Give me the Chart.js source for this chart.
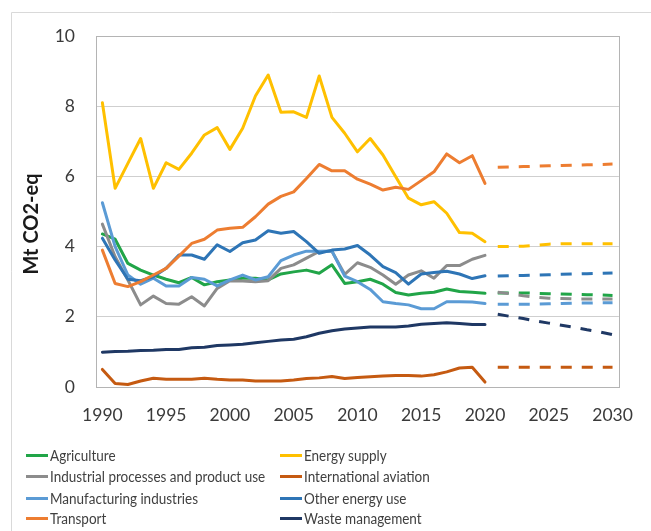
<!DOCTYPE html>
<html>
<head>
<meta charset="utf-8">
<script src="https://cdn.jsdelivr.net/npm/chart.js@4"></script>
<style>
  html, body { margin: 0; padding: 0; background: #fff; }
  #wrap { position: relative; width: 651px; height: 531px; overflow: hidden; }
  #legend { position: absolute; left: 0; top: 0; width: 651px; height: 531px; pointer-events: none;
            font-family: Lato, "Liberation Sans", sans-serif; font-size: 15.5px; color: #404040; }
  .item { position: absolute; height: 21px; line-height: 21px; white-space: nowrap; }
  .swatch { position: absolute; width: 22px; height: 3px; top: 9px; }
  .txt { position: absolute; left: 24px; top: 0; display: inline-block; transform: scaleX(0.87); transform-origin: 0 50%; }
</style>
</head>
<body>
<div id="wrap">
  <canvas id="c" width="651" height="531"></canvas>
  <div id="legend"></div>
</div>
<script>
const years = [1990,1991,1992,1993,1994,1995,1996,1997,1998,1999,2000,2001,2002,2003,2004,2005,2006,2007,2008,2009,2010,
               2011,2012,2013,2014,2015,2016,2017,2018,2019,2020,2021,2022,2023,2024,2025,2026,2027,2028,2029,2030];
const tickYears = [1990,1995,2000,2005,2010,2015,2020,2025,2030];

const seriesNames = ["Agriculture","Energy supply","Industrial processes and product use","International aviation",
                     "Manufacturing industries","Other energy use","Transport","Waste management"];
const seriesColors = ["#21A548","#FFC000","#8C8C8C","#C55A11","#5B9BD5","#2E75B6","#ED7D31","#1F3864"];

// Historical 1990-2020
const agriculture   = [4.36,4.21,3.52,3.33,3.19,3.07,2.97,3.12,2.91,3.00,3.05,3.10,3.10,3.05,3.22,3.28,3.33,3.24,3.48,2.95,3.00,3.07,2.93,2.69,2.62,2.67,2.70,2.79,2.72,2.70,2.67];
const energySupply  = [8.10,5.66,6.37,7.08,5.66,6.39,6.20,6.66,7.18,7.39,6.77,7.37,8.29,8.89,7.83,7.84,7.68,8.86,7.68,7.23,6.70,7.08,6.61,5.99,5.38,5.19,5.28,4.95,4.40,4.38,4.14];
const industrial    = [4.64,3.71,3.05,2.34,2.59,2.38,2.36,2.57,2.31,2.81,3.03,3.02,3.00,3.03,3.38,3.48,3.67,3.86,3.87,3.21,3.54,3.41,3.19,2.93,3.19,3.31,3.10,3.46,3.46,3.64,3.75];
const aviation      = [0.50,0.10,0.07,0.17,0.25,0.22,0.22,0.22,0.25,0.22,0.20,0.20,0.17,0.17,0.17,0.20,0.24,0.26,0.30,0.24,0.27,0.29,0.31,0.33,0.33,0.31,0.35,0.43,0.54,0.56,0.14];
const manufacturing = [5.25,4.00,3.19,2.93,3.10,2.88,2.88,3.12,3.07,2.88,3.05,3.19,3.05,3.14,3.60,3.76,3.87,3.87,3.87,3.16,3.00,2.78,2.43,2.38,2.34,2.23,2.23,2.43,2.43,2.42,2.38];
const otherEnergy   = [4.24,3.62,3.07,3.03,3.14,3.38,3.76,3.76,3.64,4.05,3.86,4.11,4.19,4.45,4.38,4.43,4.14,3.81,3.90,3.93,4.03,3.76,3.43,3.26,2.93,3.22,3.26,3.30,3.22,3.09,3.17];
const transport     = [3.90,2.95,2.86,3.00,3.19,3.38,3.73,4.09,4.21,4.47,4.52,4.55,4.85,5.21,5.43,5.56,5.94,6.34,6.16,6.16,5.92,5.78,5.61,5.69,5.63,5.88,6.13,6.64,6.39,6.59,5.80];
const waste         = [0.99,1.01,1.02,1.04,1.05,1.07,1.07,1.12,1.13,1.18,1.20,1.22,1.26,1.30,1.34,1.36,1.43,1.53,1.60,1.65,1.68,1.71,1.71,1.71,1.74,1.79,1.81,1.83,1.81,1.78,1.78];

// Projections 2021-2030
const agricultureP   = [2.68,2.68,2.68,2.67,2.66,2.65,2.64,2.63,2.62,2.61];
const energySupplyP  = [4.00,4.00,4.01,4.04,4.07,4.08,4.08,4.08,4.08,4.08];
const industrialP    = [2.70,2.66,2.60,2.56,2.53,2.52,2.51,2.51,2.51,2.51];
const aviationP      = [0.56,0.56,0.56,0.56,0.56,0.56,0.56,0.56,0.56,0.56];
const manufacturingP = [2.36,2.36,2.36,2.36,2.37,2.38,2.39,2.39,2.40,2.40];
const otherEnergyP   = [3.16,3.17,3.18,3.19,3.20,3.21,3.22,3.23,3.24,3.25];
const transportP     = [6.26,6.27,6.28,6.29,6.30,6.31,6.32,6.33,6.34,6.35];
const wasteP         = [2.07,2.01,1.95,1.88,1.82,1.76,1.70,1.63,1.57,1.49];

const yTicks = [0,2,4,6,8,10];
const yTitle = "Mt CO2-eq";

const hist = [agriculture,energySupply,industrial,aviation,manufacturing,otherEnergy,transport,waste];
const proj = [agricultureP,energySupplyP,industrialP,aviationP,manufacturingP,otherEnergyP,transportP,wasteP];

const nHist = hist[0].length;
const datasets = [];
seriesNames.forEach((name, i) => {
  const solid = years.map((y, k) => k < nHist ? hist[i][k] : null);
  const dashed = years.map((y, k) => k >= nHist ? proj[i][k - nHist] : null);
  datasets.push({ label: name, data: solid, borderColor: seriesColors[i], borderWidth: 3,
                  pointRadius: 0, tension: 0, fill: false, spanGaps: false, order: 100 - i,
                  borderJoinStyle: 'round', borderCapStyle: 'round' });
  datasets.push({ label: name + " (projection)", data: dashed, borderColor: seriesColors[i], borderWidth: 3,
                  borderDash: [11, 10], pointRadius: 0, tension: 0, fill: false, spanGaps: false, order: 100 - i,
                  borderCapStyle: 'butt' });
});

const framePlugin = {
  id: 'frame',
  beforeDraw(chart) {
    const ctx = chart.ctx;
    ctx.save();
    ctx.strokeStyle = '#D9D9D9';
    ctx.lineWidth = 1;
    ctx.beginPath();
    ctx.moveTo(11.5, 531); ctx.lineTo(11.5, 12.5); ctx.lineTo(651, 12.5);
    ctx.stroke();
    ctx.restore();
  },
  beforeDatasetsDraw(chart) {
    const a = chart.chartArea, ctx = chart.ctx;
    ctx.save();
    ctx.strokeStyle = '#B4B4B4';
    ctx.lineWidth = 1;
    ctx.strokeRect(Math.round(a.left) + 0.5, Math.round(a.top) + 0.5,
                   Math.round(a.right - a.left), Math.round(a.bottom - a.top));
    ctx.restore();
  },
  afterDraw(chart) {
    const ctx = chart.ctx;
    ctx.save();
    ctx.translate(32, 224);
    ctx.rotate(-Math.PI / 2);
    ctx.font = 'bold 20px Lato, "Liberation Sans", sans-serif';
    ctx.fillStyle = '#1a1a1a';
    ctx.textAlign = 'center';
    ctx.textBaseline = 'middle';
    ctx.fillText(yTitle, 0, 0);
    ctx.restore();
  }
};

new Chart(document.getElementById('c'), {
  type: 'line',
  data: { labels: years, datasets },
  options: {
    responsive: false,
    animation: false,
    devicePixelRatio: 1,
    layout: { padding: { top: 36, right: 14, bottom: 104, left: 0 } },
    plugins: { legend: { display: false }, tooltip: { enabled: false } },
    scales: {
      x: {
        type: 'category',
        offset: true,
        grid: { display: false, drawTicks: false },
        border: { display: true, color: '#B4B4B4' },
        ticks: {
          autoSkip: false, maxRotation: 0, minRotation: 0, padding: 18,
          color: '#3A3A3A', font: { family: 'Lato, "Liberation Sans", sans-serif', size: 17.5 },
          callback: (v, i) => tickYears.includes(years[i]) ? String(years[i]) : ''
        },
        afterFit: s => { s.height = 40; }
      },
      y: {
        min: yTicks[0], max: yTicks[yTicks.length - 1],
        grid: { color: '#CFCFCF', drawTicks: false },
        border: { display: true, color: '#B4B4B4' },
        afterBuildTicks: s => { s.ticks = yTicks.map(v => ({ value: v })); },
        ticks: {
          padding: 21, color: '#3A3A3A',
          font: { family: 'Lato, "Liberation Sans", sans-serif', size: 17.5 }
        },
        afterFit: s => { s.width = 96; }
      }
    }
  },
  plugins: [framePlugin]
});

// HTML legend built from the series arrays
const legend = document.getElementById('legend');
const colX = [26, 280];
const rowY = [445, 466, 488, 508];
seriesNames.forEach((name, i) => {
  const it = document.createElement('div');
  it.className = 'item';
  it.style.left = colX[i % 2] + 'px';
  it.style.top = rowY[Math.floor(i / 2)] + 'px';
  const sw = document.createElement('div');
  sw.className = 'swatch';
  sw.style.background = seriesColors[i];
  const tx = document.createElement('span');
  tx.className = 'txt';
  tx.textContent = name;
  it.appendChild(sw); it.appendChild(tx);
  legend.appendChild(it);
});
</script>
</body>
</html>
